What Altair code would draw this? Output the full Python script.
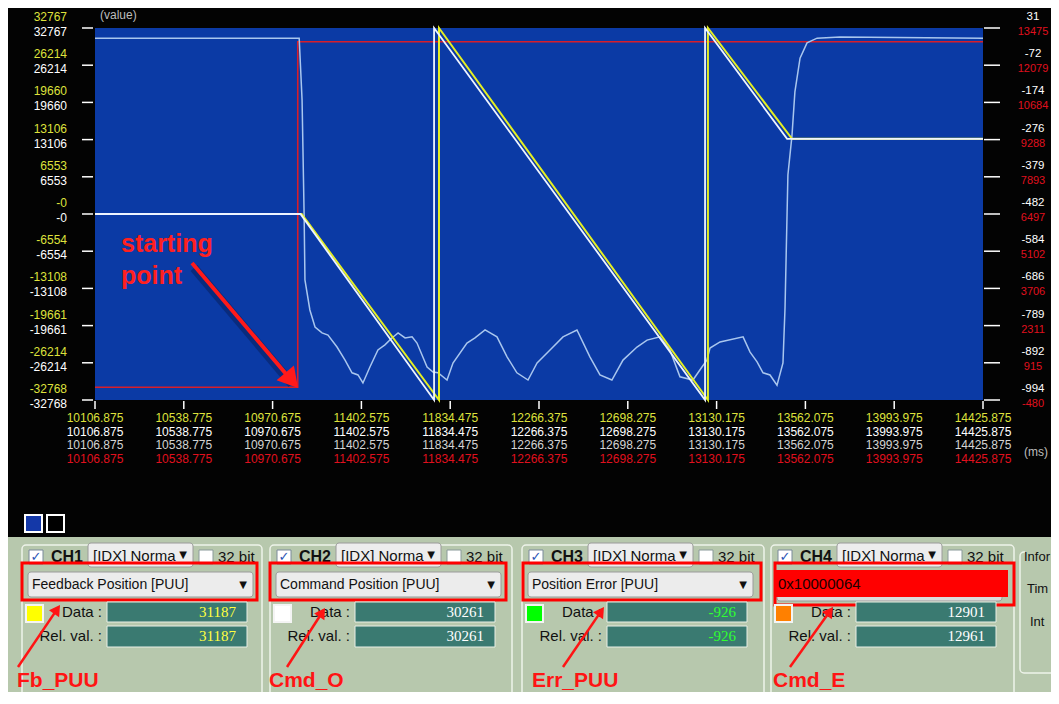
import math
import altair as alt
import pandas as pd

# ---------------- data ----------------
X_TICKS = [10106.875, 10538.775, 10970.675, 11402.575, 11834.475, 12266.375,
           12698.275, 13130.175, 13562.075, 13993.975, 14425.875]
X_LABELS = ["10106.875", "10538.775", "10970.675", "11402.575", "11834.475", "12266.375",
            "12698.275", "13130.175", "13562.075", "13993.975", "14425.875"]
Y_TICKS = [32767, 26214, 19660, 13106, 6553, 0, -6554, -13108, -19661, -26214, -32768]
Y_LABELS = ["32767", "26214", "19660", "13106", "6553", "-0", "-6554", "-13108",
            "-19661", "-26214", "-32768"]
ERR_LABELS = ["31", "-72", "-174", "-276", "-379", "-482", "-584", "-686", "-789", "-892", "-994"]
CMDE_LABELS = ["13475", "12079", "10684", "9288", "7893", "6497", "5102", "3706", "2311", "915", "-480"]

PUU_DOMAIN = [-32768, 32767]
ERR_DOMAIN = [-994, 31]
CMDE_DOMAIN = [-480, 13475]

# CH2 command position (white)
CMD_T = [10106.875, 11106, 11756, 11756, 13074, 13074, 13473, 14425.875]
CMD_V = [0, 0, -32768, 32767, -32768, 32767, 13250, 13250]
# CH1 feedback position (yellow)
FB_T = [10106.875, 11112, 11780, 11780, 13088, 13088, 13497, 14425.875]
FB_V = [0, 0, -32768, 32767, -32768, 32767, 13250, 13250]
# CH3 position error (light blue)
ERR_T = [
    10106.875, 11100, 11114, 11124, 11128, 11152, 11177, 11211, 11240, 11284,
    11323, 11357, 11386, 11410, 11444, 11483, 11517, 11551, 11581, 11615,
    11649, 11673, 11722, 11751, 11775, 11819, 11848, 11916, 11955, 12004,
    12062, 12111, 12159, 12213, 12257, 12320, 12383, 12451, 12514, 12563,
    12621, 12675, 12743, 12792, 12855, 12903, 12952, 13015, 13059, 13083,
    13098, 13147, 13259, 13293, 13327, 13356, 13390, 13424, 13453, 13463,
    13477, 13497, 13511, 13536, 13570, 13619, 13730, 14425.875]
ERR_V = [
    3, 3, -167, -484, -663, -746, -793, -809, -815, -848,
    -884, -919, -925, -947, -903, -856, -842, -823, -809, -823,
    -820, -837, -903, -917, -919, -939, -892, -837, -823, -801,
    -820, -875, -919, -939, -892, -856, -820, -801, -875, -925,
    -939, -884, -848, -829, -820, -856, -930, -939, -903, -884,
    -851, -834, -820, -862, -889, -919, -925, -953, -892, -740,
    -374, -264, -145, -52, -10, 3, 6, 3]
# CH4 (red)
CMDE_T = [10106.875, 11093, 11093, 14425.875]
CMDE_V = [0, 0, 12961, 12961]

CH_NAMES = ["CH1", "CH2", "CH3", "CH4"]
CH_SIGNALS = ["Feedback Position [PUU]", "Command Position [PUU]", "Position Error [PUU]", "0x10000064"]
CH_DATA = ["31187", "30261", "-926", "12901"]
CH_REL = ["31187", "30261", "-926", "12961"]
CH_NOTES = ["Fb_PUU", "Cmd_O", "Err_PUU", "Cmd_E"]
MODE_TEXT = "[IDX] Norma"
INFO_TEXTS = ["Infor", "Tim", "Int"]

# ---------------- styling / layout ----------------
BG = "#030303"
PLOT_BLUE = "#0b3aa5"
PANEL = "#b7c8ad"
TEAL = "#3a7a71"
YEL = "#e4ee22"
YEL_LAB = "#dfe23c"
RED_LINE = "#d81e2a"
RED_LAB = "#e0101e"
ANNO_RED = "#ff1414"
ERR_COL = "#a9c6ee"
WHITE_LINE = "#eef4ff"
SWATCH = ["#ffff00", "#ffffff", "#00ff00", "#ff8000"]
VALUE_COL = ["#ffff40", "#ffffff", "#30ff30", "#ffffff"]
FONT = "Liberation Sans"

OX, OY = 95, 28            # plot origin in screen pixels
W, H = 888, 372

ONE = pd.DataFrame({"k": [0]})
xs = alt.Scale(domain=[X_TICKS[0], X_TICKS[-1]], nice=False, zero=False)


def yscale(dom):
    return alt.Scale(domain=dom, nice=False, zero=False)


def box(x1, y1, x2, y2, **kw):
    return alt.Chart(ONE).mark_rect(**kw).encode(
        x=alt.value(x1 - OX), x2=alt.value(x2 - OX),
        y=alt.value(y1 - OY), y2=alt.value(y2 - OY))


def label(x, y, s, **kw):
    kw.setdefault("baseline", "middle")
    kw.setdefault("align", "left")
    kw.setdefault("font", FONT)
    return alt.Chart(ONE).mark_text(text=s, **kw).encode(
        x=alt.value(x - OX), y=alt.value(y - OY))


def seg(x1, y1, x2, y2, color, width, **kw):
    return alt.Chart(ONE).mark_rule(color=color, strokeWidth=width, **kw).encode(
        x=alt.value(x1 - OX), y=alt.value(y1 - OY),
        x2=alt.value(x2 - OX), y2=alt.value(y2 - OY))


def arrow(x1, y1, x2, y2, color, width, head):
    dx, dy = x2 - x1, y2 - y1
    L = math.hypot(dx, dy)
    ux, uy = dx / L, dy / L
    ang = math.degrees(math.atan2(ux, -uy)) % 360
    r = math.sqrt(head) / 2
    h = 0.866 * r
    cx, cy = x2 - h * ux, y2 - h * uy
    tip = alt.Chart(ONE).mark_point(shape="triangle-up", filled=True, size=head,
                                    angle=ang, color=color, opacity=1).encode(
        x=alt.value(cx - OX), y=alt.value(cy - OY))
    return [seg(x1, y1, cx, cy, color, width), tip]


def series(t, v, dom, color, width):
    df = pd.DataFrame({"t": t, "v": v, "i": list(range(len(t)))})
    return alt.Chart(df).mark_line(color=color, strokeWidth=width).encode(
        x=alt.X("t:Q", scale=xs, axis=None),
        y=alt.Y("v:Q", scale=yscale(dom), axis=None),
        order="i:Q")


layers = []

# ---------------- bottom panel ----------------
layers.append(box(0, 537, 1100, 720, fill=PANEL))
layers.append(box(25, 515, 42, 532, fill="#1438a8", stroke="white", strokeWidth=2))
layers.append(box(47, 515, 64, 532, fill="#000000", stroke="white", strokeWidth=2))

X0 = [22, 270, 522, 771]
GW = [240, 242, 242, 243]
RED_BOX = [(0, 563, 235, 600), (0, 563, 236, 600), (1, 563, 239, 600), (4, 563, 243, 605)]
NOTE_POS = [(17, 681), (269, 681), (532, 681), (773, 681)]
ARROWS = [(18, 667, 60, 605), (287, 667, 325, 608), (563, 667, 604, 607), (790, 667, 833, 607)]

for k in range(4):
    x0 = X0[k]
    layers.append(box(x0, 545, x0 + GW[k], 700, fillOpacity=0, stroke="#eef3ea",
                      strokeWidth=1.5, cornerRadius=4))
    # checkbox + name
    layers.append(box(x0 + 7, 550, x0 + 21, 564, fill="white", stroke="#7a8a9a", strokeWidth=1))
    layers.append(label(x0 + 14, 557, "✓", align="center", color="#2a55b5",
                        fontSize=13, fontWeight="bold", font="DejaVu Sans"))
    layers.append(label(x0 + 29, 557, CH_NAMES[k], fontSize=16, fontWeight="bold", color="#111111"))
    # mode dropdown
    layers.append(box(x0 + 66, 543, x0 + 171, 567, fill="#ededed", stroke="#9a9a9a",
                      strokeWidth=1, cornerRadius=3))
    layers.append(label(x0 + 71, 556, MODE_TEXT, fontSize=15, color="#111111"))
    layers.append(label(x0 + 161, 555, "▼", align="center", fontSize=10, color="#111111",
                        font="DejaVu Sans"))
    # 32 bit
    layers.append(box(x0 + 177, 550, x0 + 191, 564, fill="white", stroke="#8a9a9a", strokeWidth=1))
    layers.append(label(x0 + 196, 557, "32 bit", fontSize=15, color="#111111"))
    # signal dropdown
    if k < 3:
        layers.append(box(x0 + 6, 572, x0 + 231, 597, fill="#ececec", stroke="#9a9a9a",
                          strokeWidth=1, cornerRadius=3))
        layers.append(label(x0 + 10, 585, CH_SIGNALS[k], fontSize=14, color="#111111"))
        layers.append(label(x0 + 221, 585, "▼", align="center", fontSize=10, color="#111111",
                            font="DejaVu Sans"))
    else:
        layers.append(box(x0 + 6, 590, x0 + 231, 601, fill="#dcdcdc", stroke="#9a9a9a",
                          strokeWidth=1, cornerRadius=3))
        layers.append(box(x0 + 5, 570, x0 + 237, 597, fill="#ff0000"))
        layers.append(label(x0 + 7, 584, CH_SIGNALS[k], fontSize=15, color="#200000"))
    bx1, by1, bx2, by2 = RED_BOX[k]
    layers.append(box(x0 + bx1, by1, x0 + bx2, by2, fillOpacity=0, stroke="#ff0000", strokeWidth=3))
    # swatch + data fields
    layers.append(box(x0 + 4, 605, x0 + 21, 622, fill=SWATCH[k], stroke="#f4f4f4", strokeWidth=2))
    layers.append(label(x0 + 80, 612, "Data :", align="right", fontSize=15, color="#111111"))
    layers.append(box(x0 + 85, 602, x0 + 225, 622, fill=TEAL, stroke="#e9efe6", strokeWidth=1))
    layers.append(label(x0 + 214, 612, CH_DATA[k], align="right", fontSize=15,
                        font="Liberation Serif", color=VALUE_COL[k]))
    layers.append(label(x0 + 80, 636, "Rel. val. :", align="right", fontSize=15, color="#111111"))
    layers.append(box(x0 + 85, 626, x0 + 225, 647, fill=TEAL, stroke="#e9efe6", strokeWidth=1))
    layers.append(label(x0 + 214, 636, CH_REL[k], align="right", fontSize=15,
                        font="Liberation Serif", color=VALUE_COL[k]))
    # annotation
    ax1, ay1, ax2, ay2 = ARROWS[k]
    layers += arrow(ax1, ay1, ax2, ay2, ANNO_RED, 2.5, 150)
    nx, ny = NOTE_POS[k]
    layers.append(label(nx, ny, CH_NOTES[k], fontSize=21, fontWeight="bold", color=ANNO_RED))

# Info group (cut by the window edge in the original: only the visible part is drawn)
layers.append(box(1020, 552, 1080, 673, fillOpacity=0, stroke="#eef3ea", strokeWidth=1.5, cornerRadius=4))
layers.append(box(1025, 549, 1052, 565, fill=PANEL))
layers.append(label(1024, 557, INFO_TEXTS[0], fontSize=13, color="#111111"))
layers.append(label(1027, 589, INFO_TEXTS[1], fontSize=13, color="#111111"))
layers.append(label(1030, 622, INFO_TEXTS[2], fontSize=13, color="#111111"))

# ---------------- scope traces ----------------
layers.append(series(CMDE_T, CMDE_V, CMDE_DOMAIN, RED_LINE, 1.6))
layers.append(series(ERR_T, ERR_V, ERR_DOMAIN, ERR_COL, 1.5))
layers.append(series(FB_T, FB_V, PUU_DOMAIN, YEL, 2))
layers.append(series(CMD_T, CMD_V, PUU_DOMAIN, WHITE_LINE, 1.8))

# ---------------- axes (ticks + stacked labels) ----------------
ydf = pd.DataFrame({"v": Y_TICKS, "lab": Y_LABELS, "err": ERR_LABELS, "cmde": CMDE_LABELS})
yenc = alt.Y("v:Q", scale=yscale(PUU_DOMAIN), axis=None)
layers.append(alt.Chart(ydf).mark_rule(color="white", strokeWidth=1.5).encode(
    x=alt.value(-13), x2=alt.value(-2), y=yenc))
layers.append(alt.Chart(ydf).mark_rule(color="white", strokeWidth=1.5).encode(
    x=alt.value(W + 1), x2=alt.value(W + 17), y=yenc))
for field, col, dy, xpos, align, fs in [("lab", YEL_LAB, -11, -28, "right", 12),
                                        ("lab", "#ffffff", 4, -28, "right", 12),
                                        ("err", "#ffffff", -11, W + 50, "center", 11.5),
                                        ("cmde", RED_LAB, 4, W + 50, "center", 11)]:
    layers.append(alt.Chart(ydf).mark_text(align=align, baseline="middle", dy=dy, color=col,
                                           font=FONT, fontSize=fs).encode(
        x=alt.value(xpos), y=yenc, text=f"{field}:N"))

xdf = pd.DataFrame({"t": X_TICKS, "lab": X_LABELS})
xenc = alt.X("t:Q", scale=xs, axis=None)
layers.append(alt.Chart(xdf).mark_rule(color="white", strokeWidth=1.5).encode(
    x=xenc, y=alt.value(H + 1), y2=alt.value(H + 9)))
for row, col in enumerate([YEL_LAB, "#ffffff", "#d4d4d4", RED_LAB]):
    layers.append(alt.Chart(xdf).mark_text(align="center", baseline="middle", color=col,
                                           font=FONT, fontSize=12).encode(
        x=xenc, y=alt.value(H + 18 + 13.7 * row), text="lab:N"))

layers.append(label(100, 15, "(value)", fontSize=12, color="#bdbdbd"))
layers.append(label(1024, 452, "(ms)", fontSize=12, color="#bdbdbd"))

# ---------------- "starting point" annotation ----------------
layers.append(seg(194, 268, 292, 384, "#0a1f5c", 9, opacity=0.55))
layers.append(label(121, 244, "starting", fontSize=25, fontWeight="bold", color="#ff2020"))
layers.append(label(121, 276, "point", fontSize=25, fontWeight="bold", color="#ff2020"))
layers += arrow(192, 263, 298, 388, "#ff1a1a", 4, 520)

chart = alt.layer(*layers).resolve_scale(y="independent").properties(
    width=W, height=H,
    padding={"left": 87, "top": 20, "right": 68, "bottom": 292},
    autosize=alt.AutoSizeParams(type="none"),
    background=BG,
).configure_view(fill=PLOT_BLUE, strokeWidth=0)

chart.save("out.html", embed_options={"renderer": "svg", "actions": False})
